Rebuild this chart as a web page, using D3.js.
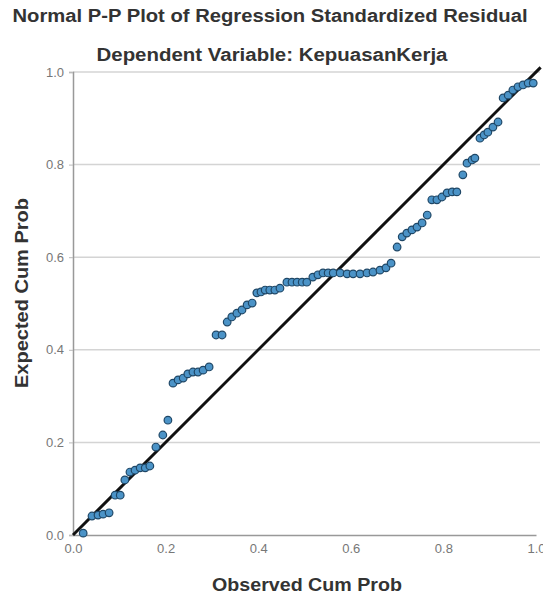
<!DOCTYPE html>
<meta charset="utf-8">
<script src="https://cdn.jsdelivr.net/npm/d3@7"></script>
<style>
body { margin: 0; background: #fff; }
text { font-family: "Liberation Sans", Arial, sans-serif; }
.grid line { stroke: #d4d4d4; stroke-width: 1.5; }
.tick text { fill: #777; font-size: 13px; }
</style>
<body>
<script>
// observed vs expected cumulative probability
var observed = [0.022,0.041,0.054,0.065,0.078,0.091,0.102,0.112,0.123,0.134,0.145,0.156,0.166,0.179,0.194,0.205,
  0.216,0.227,0.238,0.248,0.259,0.270,0.281,0.294,0.309,0.322,0.333,0.343,0.354,0.365,0.376,0.387,0.397,0.406,
  0.415,0.425,0.436,0.447,0.462,0.473,0.484,0.495,0.505,0.518,0.529,0.540,0.551,0.562,0.577,0.592,0.605,0.620,
  0.635,0.648,0.663,0.676,0.687,0.700,0.711,0.721,0.732,0.743,0.754,0.765,0.775,0.786,0.797,0.808,0.819,0.829,
  0.842,0.851,0.862,0.868,0.879,0.888,0.896,0.907,0.918,0.929,0.940,0.950,0.961,0.972,0.983,0.994]
var expected = [0.004,0.041,0.043,0.045,0.048,0.086,0.086,0.119,0.136,0.140,0.145,0.145,0.149,0.190,0.216,0.248,
  0.328,0.335,0.339,0.348,0.352,0.352,0.356,0.363,0.432,0.432,0.460,0.471,0.479,0.486,0.497,0.501,0.523,0.525,
  0.529,0.529,0.529,0.533,0.546,0.546,0.546,0.546,0.546,0.557,0.562,0.566,0.566,0.566,0.566,0.564,0.564,0.564,
  0.566,0.568,0.572,0.577,0.587,0.622,0.644,0.652,0.659,0.665,0.674,0.691,0.724,0.724,0.730,0.739,0.741,0.741,
  0.778,0.803,0.810,0.814,0.857,0.864,0.870,0.881,0.892,0.944,0.950,0.961,0.968,0.972,0.976,0.976]
var ticks = [0, 0.2, 0.4, 0.6, 0.8, 1.0]
var title = "Normal P-P Plot of Regression Standardized Residual"
var subtitle = "Dependent Variable: KepuasanKerja"

var W = 543, H = 597
var pLeft = 73, pRight = 536, pTop = 72, pBottom = 535

var svg = d3.select("body").append("svg").attr("width", W).attr("height", H)

var x = d3.scaleLinear().domain([0, 1]).range([pLeft, pRight])
var y = d3.scaleLinear().domain([0, 1]).range([pBottom, pTop])

// horizontal grid lines
svg.append("g").attr("class", "grid")
  .selectAll("line").data(ticks.slice(1)).enter().append("line")
  .attr("x1", pLeft).attr("x2", pRight + 4)
  .attr("y1", d => y(d)).attr("y2", d => y(d))

var yAxis = svg.append("g").attr("transform", "translate(" + pLeft + ",0)")
  .call(d3.axisLeft(y).tickValues(ticks).tickFormat(d3.format(".1f")).tickSize(4).tickPadding(5))
var xAxis = svg.append("g").attr("transform", "translate(0," + pBottom + ")")
  .call(d3.axisBottom(x).tickValues(ticks).tickFormat(d3.format(".1f")).tickSize(0).tickPadding(9))
yAxis.select(".domain").attr("stroke", "#999").attr("stroke-width", 1.5)
yAxis.selectAll(".tick line").attr("stroke", "#bbb")
xAxis.select(".domain").attr("stroke", "#999").attr("stroke-width", 1.5)

// reference line
svg.append("line")
  .attr("x1", x(0)).attr("y1", y(0)).attr("x2", x(1.01)).attr("y2", y(1.01))
  .attr("stroke", "#111").attr("stroke-width", 3)

svg.append("g").selectAll("circle").data(observed).enter().append("circle")
  .attr("cx", d => x(d)).attr("cy", (d, i) => y(expected[i]))
  .attr("r", 3.8)
  .attr("fill", "#4b93c7").attr("stroke", "#1f4766").attr("stroke-width", 1.2)

svg.append("text").attr("x", 270).attr("y", 22).attr("text-anchor", "middle")
  .attr("font-size", 18).attr("font-weight", "bold").attr("fill", "#333")
  .attr("textLength", 515).attr("lengthAdjust", "spacingAndGlyphs").text(title)
svg.append("text").attr("x", 272).attr("y", 61).attr("text-anchor", "middle")
  .attr("font-size", 18).attr("font-weight", "bold").attr("fill", "#333")
  .attr("textLength", 351).attr("lengthAdjust", "spacingAndGlyphs").text(subtitle)

svg.append("text").attr("x", 307).attr("y", 591).attr("text-anchor", "middle")
  .attr("font-size", 18).attr("font-weight", "bold").attr("fill", "#333")
  .attr("textLength", 190).attr("lengthAdjust", "spacingAndGlyphs").text("Observed Cum Prob")
svg.append("text").attr("transform", "translate(28,293) rotate(-90)").attr("text-anchor", "middle")
  .attr("font-size", 18).attr("font-weight", "bold").attr("fill", "#333")
  .attr("textLength", 190).attr("lengthAdjust", "spacingAndGlyphs").text("Expected Cum Prob")
</script>
</body>
</html>
